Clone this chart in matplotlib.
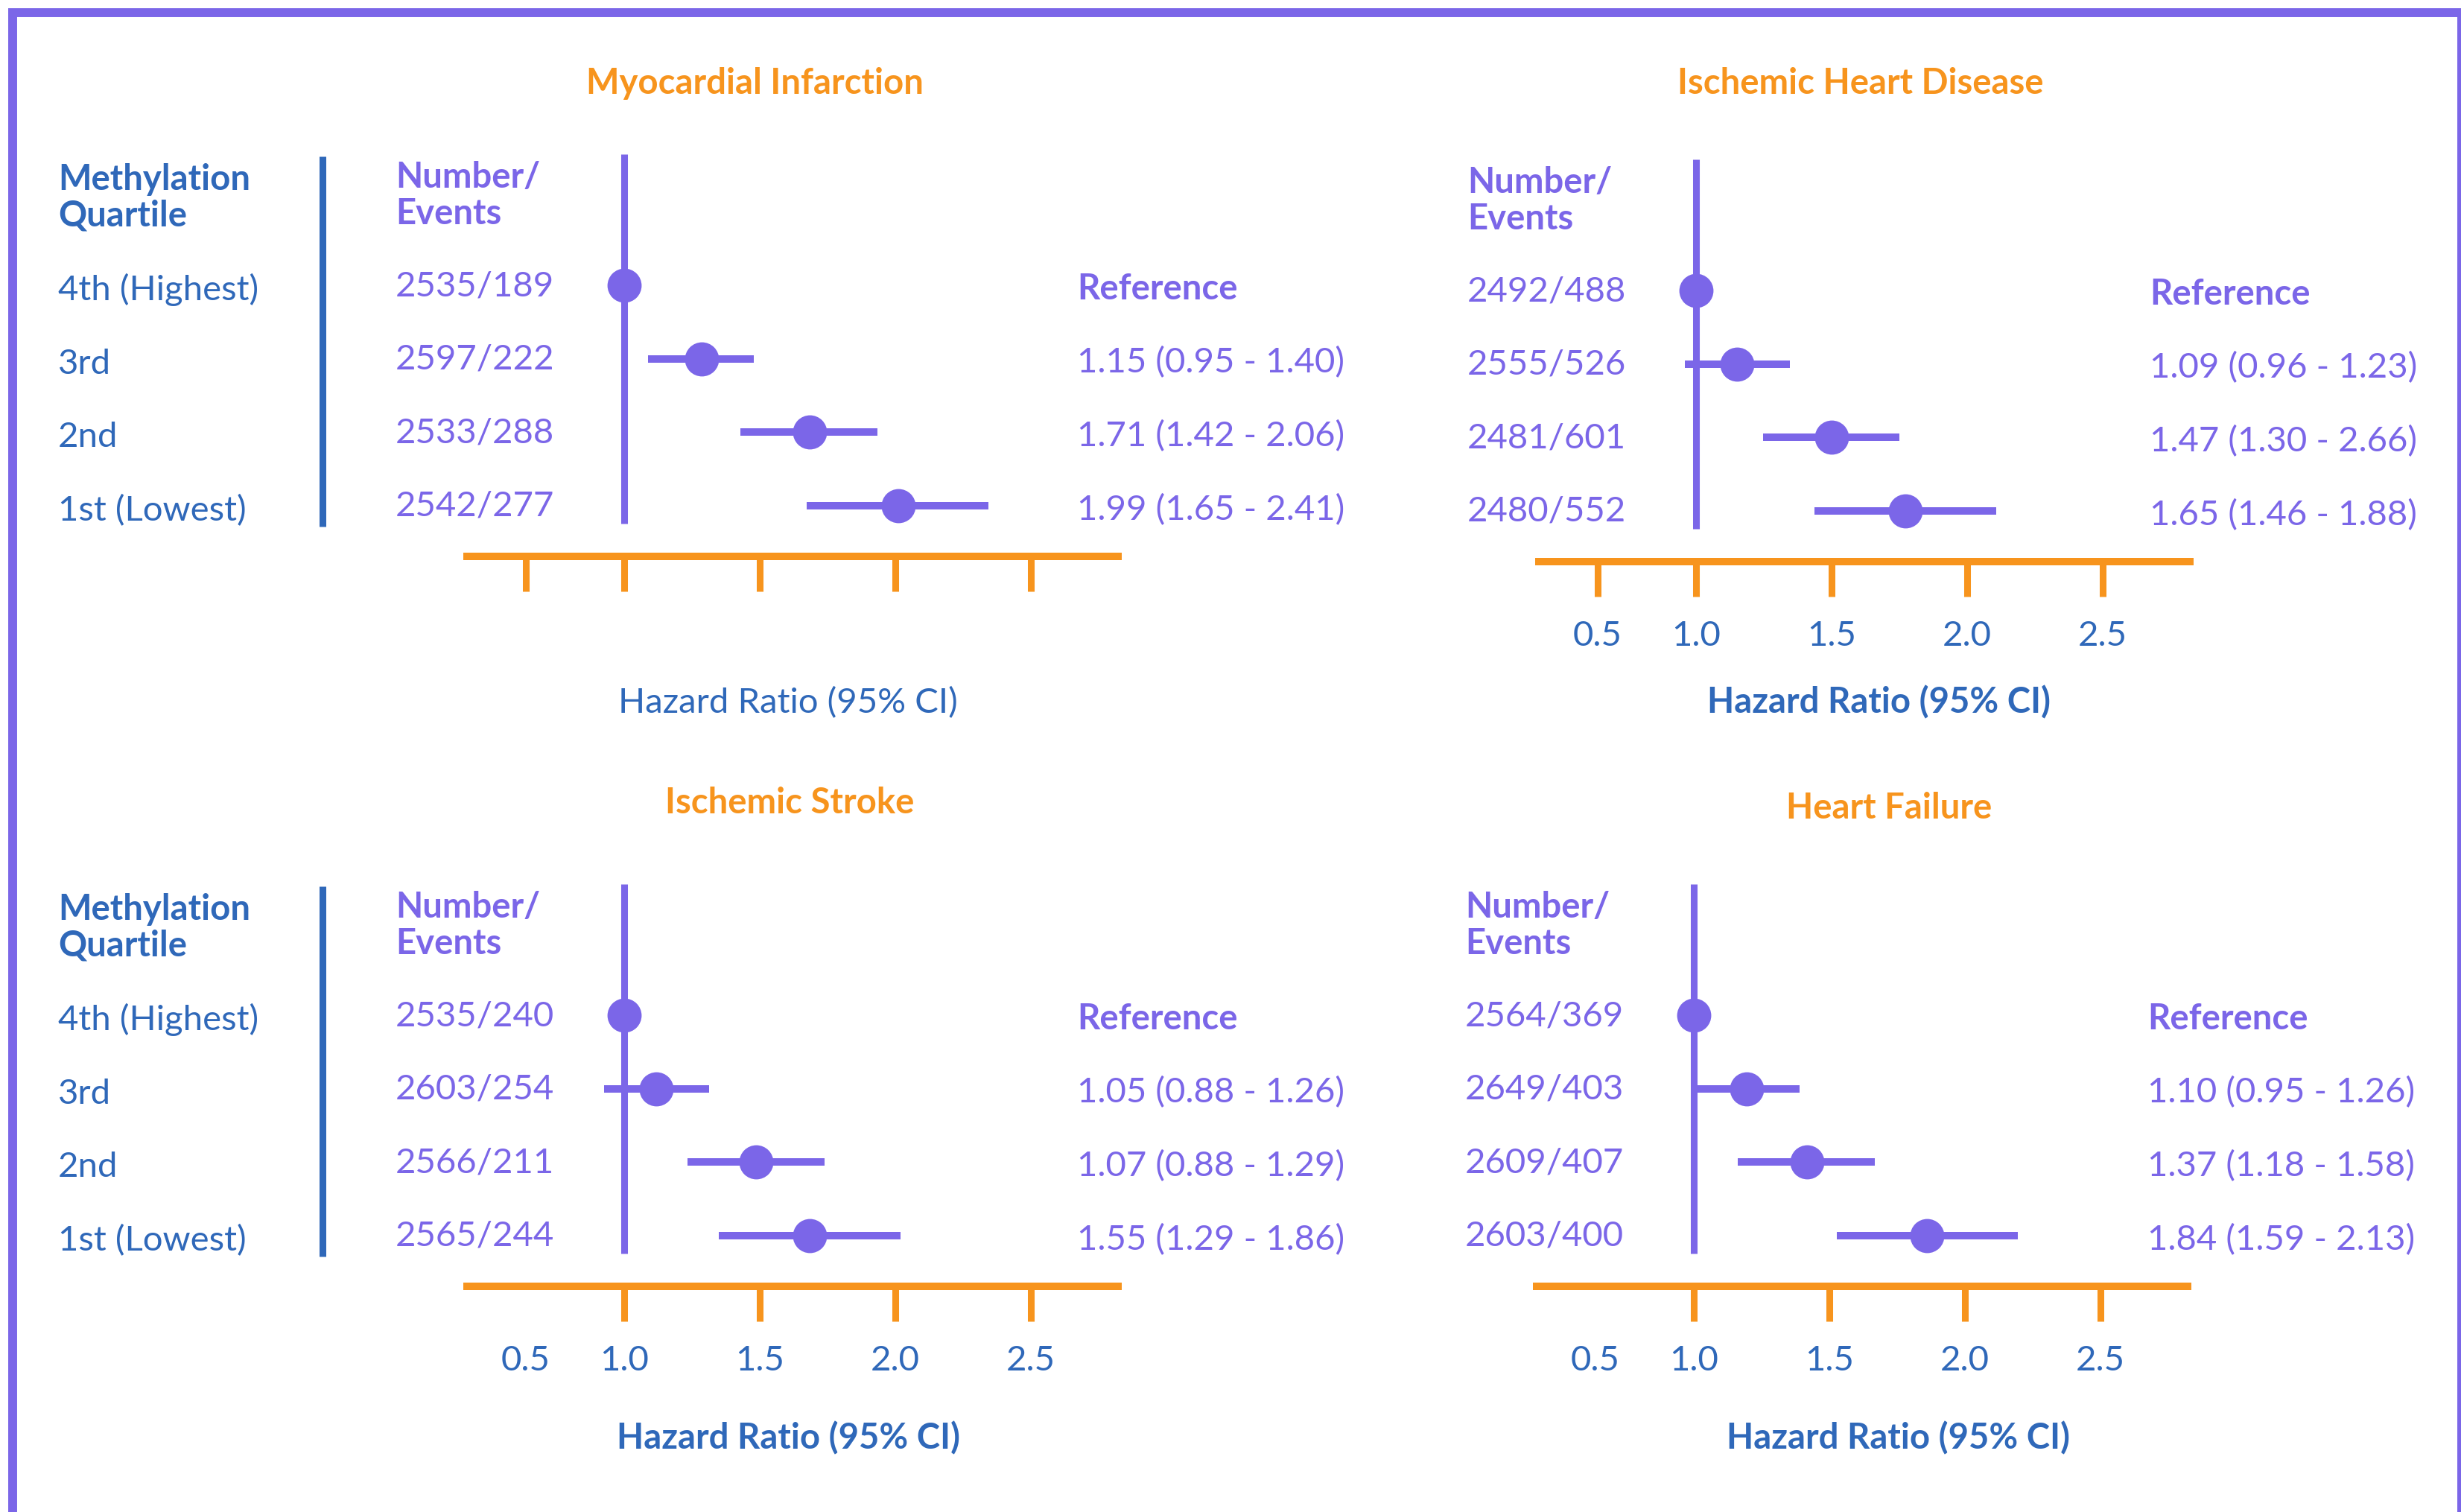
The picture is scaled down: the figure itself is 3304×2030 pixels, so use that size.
import numpy as np
import matplotlib
matplotlib.use("Agg")
import matplotlib.pyplot as plt
from matplotlib.transforms import blended_transform_factory
from matplotlib.patches import Rectangle

plt.rcParams['font.family'] = ['Lato', 'DejaVu Sans']

# ---- data ----
quartiles = ["4th (Highest)", "3rd", "2nd", "1st (Lowest)"]

mi_n = ["2535/189", "2597/222", "2533/288", "2542/277"]
mi_ref = ["Reference", "1.15 (0.95 - 1.40)", "1.71 (1.42 - 2.06)", "1.99 (1.65 - 2.41)"]
mi_hr = [1.0, 1.285, 1.683, 2.010]
mi_lo = [1.0, 1.088, 1.428, 1.674]
mi_hi = [1.0, 1.479, 1.934, 2.344]

ihd_n = ["2492/488", "2555/526", "2481/601", "2480/552"]
ihd_ref = ["Reference", "1.09 (0.96 - 1.23)", "1.47 (1.30 - 2.66)", "1.65 (1.46 - 1.88)"]
ihd_hr = [1.0, 1.153, 1.501, 1.773]
ihd_lo = [1.0, 0.943, 1.247, 1.438]
ihd_hi = [1.0, 1.347, 1.751, 2.108]

is_n = ["2535/240", "2603/254", "2566/211", "2565/244"]
is_ref = ["Reference", "1.05 (0.88 - 1.26)", "1.07 (0.88 - 1.29)", "1.55 (1.29 - 1.86)"]
is_hr = [1.0, 1.120, 1.488, 1.684]
is_lo = [1.0, 0.898, 1.234, 1.350]
is_hi = [1.0, 1.313, 1.739, 2.018]

hf_n = ["2564/369", "2649/403", "2609/407", "2603/400"]
hf_ref = ["Reference", "1.10 (0.95 - 1.26)", "1.37 (1.18 - 1.58)", "1.84 (1.59 - 2.13)"]
hf_hr = [1.0, 1.195, 1.418, 1.860]
hf_lo = [1.0, 1.011, 1.164, 1.527]
hf_hi = [1.0, 1.391, 1.668, 2.195]

tick_vals = [0.5, 1.0, 1.5, 2.0, 2.5]
tick_text = ["0.5", "1.0", "1.5", "2.0", "2.5"]

# ---- style ----
W, H = 3304, 2031
PURPLE = '#7B66E8'
BLUE = '#2F68B9'
ORANGE = '#F7941D'
FS = 34
AX_W, AX_H = 874, 549

# the drawn axis is squeezed below 1.0
K_LOW = 0.725


def fwd(x):
    x = np.asarray(x, dtype=float)
    return np.where(x < 1, 1 + (x - 1) * K_LOW, x)


def inv(y):
    y = np.asarray(y, dtype=float)
    return np.where(y < 1, 1 + (y - 1) / K_LOW, y)


fig = plt.figure(figsize=(W / 100, H / 100), dpi=100)

# frame
fig.patches.append(Rectangle((17 / W, -4 / H), (3305 - 17) / W, (2031 + 4 - 18) / H,
                             transform=fig.transFigure, fill=False,
                             edgecolor=PURPLE, linewidth=8.6))


def ftext(x, y, s, **kw):
    fig.text(x / W, 1 - y / H, s, **kw)


def draw_panel(title, nev, reftxt, hr, lo, hi, left, bottom, col_n, col_ref,
               title_xy, xlab_xy, quartile_col, show_labels, bold_xlabel, tick05):
    ax = fig.add_axes([left / W, 1 - bottom / H, AX_W / W, AX_H / H])
    ax.set_xscale('function', functions=(fwd, inv))
    ax.set_xlim(0.202, 2.821)
    ax.set_ylim(3.69, -1.88)
    ax.patch.set_visible(False)
    rows = np.arange(len(hr))

    ax.vlines(1.0, -1.79, 3.24, color=PURPLE, lw=6.5, zorder=2)
    ax.hlines(rows, lo, hi, color=PURPLE, lw=7.2, capstyle='butt', zorder=3)
    ax.plot(hr, rows, 'o', ms=33, color=PURPLE, mew=0, zorder=4)

    for s in ['top', 'right', 'left']:
        ax.spines[s].set_visible(False)
    ax.spines['bottom'].set_color(ORANGE)
    ax.spines['bottom'].set_linewidth(7.2)
    ax.set_yticks([])
    ax.set_xticks(tick_vals)
    ax.set_xticklabels(tick_text)
    ax.tick_params(axis='x', direction='out', length=34, width=6.5, color=ORANGE,
                   pad=22, labelsize=FS, labelcolor=BLUE, labelbottom=show_labels)
    ax.xaxis.set_minor_locator(matplotlib.ticker.NullLocator())
    if not tick05:
        ax.xaxis.get_major_ticks(len(tick_vals))[0].tick1line.set_visible(False)

    tr = blended_transform_factory(fig.transFigure, ax.transData)
    if quartile_col:
        ax.text(78 / W, -1.31, "Methylation", transform=tr, color=BLUE,
                fontsize=FS, fontweight='bold', va='baseline')
        ax.text(78 / W, -0.82, "Quartile", transform=tr, color=BLUE,
                fontsize=FS, fontweight='bold', va='baseline')
        for i in rows:
            ax.text(78 / W, i + 0.19, quartiles[i], transform=tr, color=BLUE,
                    fontsize=FS, va='baseline')
        ax.vlines(433 / W, -1.76, 3.28, transform=tr, color=BLUE, lw=6.5, clip_on=False)

    ax.text(col_n / W, -1.34, "Number/", transform=tr, color=PURPLE,
            fontsize=FS, fontweight='bold', va='baseline')
    ax.text(col_n / W, -0.85, "Events", transform=tr, color=PURPLE,
            fontsize=FS, fontweight='bold', va='baseline')
    for i in rows:
        ax.text(col_n / W, i + 0.13, nev[i], transform=tr, color=PURPLE,
                fontsize=FS, va='baseline')
        ax.text(col_ref / W, i + 0.18, reftxt[i], transform=tr, color=PURPLE,
                fontsize=FS, va='baseline',
                fontweight='bold' if i == 0 else 'normal')

    ftext(*title_xy, title, color=ORANGE, fontsize=FS, fontweight='bold',
          ha='center', va='baseline')
    ftext(*xlab_xy, "Hazard Ratio (95% CI)", color=BLUE, fontsize=FS,
          fontweight='bold' if bold_xlabel else 'normal', ha='center', va='baseline')
    return ax


draw_panel("Myocardial Infarction", mi_n, mi_ref, mi_hr, mi_lo, mi_hi,
           627, 748, 531, 1446, (1013, 126), (1058, 957),
           True, False, False, True)
draw_panel("Ischemic Heart Disease", ihd_n, ihd_ref, ihd_hr, ihd_lo, ihd_hi,
           2066, 755, 1970, 2886, (2498, 126), (2522, 957),
           False, True, True, True)
draw_panel("Ischemic Stroke", is_n, is_ref, is_hr, is_lo, is_hi,
           627, 1728, 531, 1446, (1060, 1092), (1059, 1945),
           True, True, True, False)
draw_panel("Heart Failure", hf_n, hf_ref, hf_hr, hf_lo, hf_hi,
           2063, 1728, 1967, 2883, (2536, 1099), (2549, 1945),
           False, True, True, False)

fig.savefig("out.png", dpi=100, facecolor='white')
